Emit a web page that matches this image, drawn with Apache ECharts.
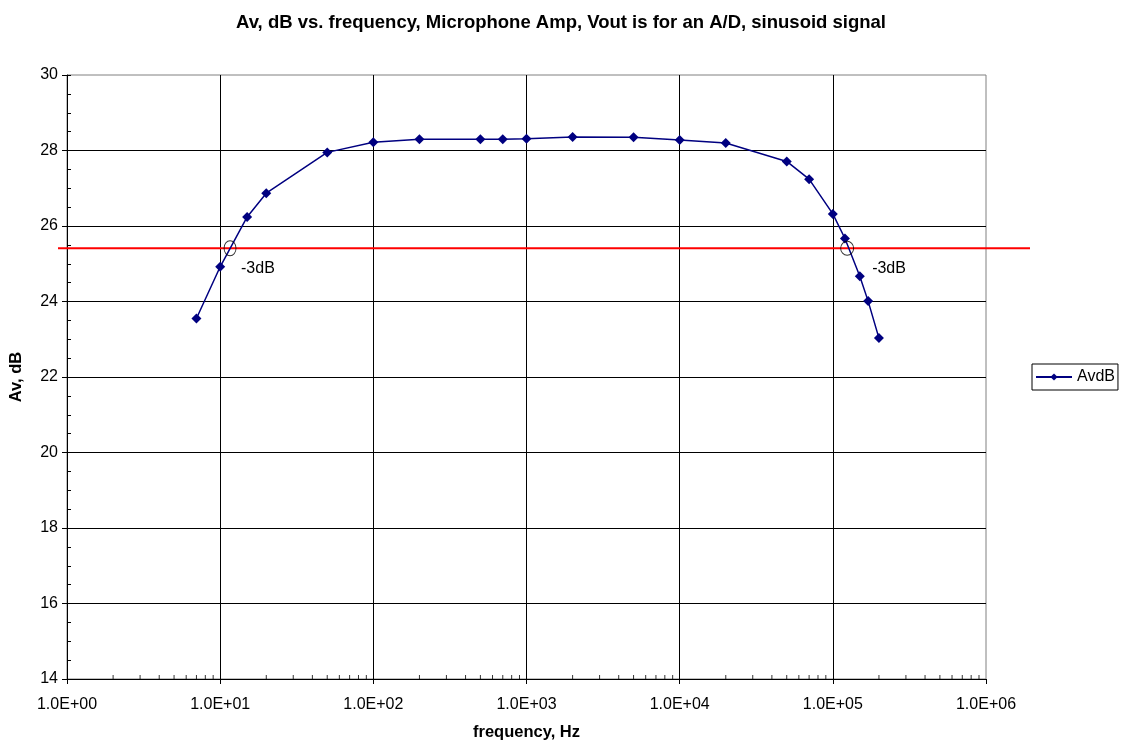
<!DOCTYPE html>
<html>
<head>
<meta charset="utf-8">
<script src="https://cdn.jsdelivr.net/npm/echarts@6/dist/echarts.min.js"></script>
<style>
    html, body { margin: 0; padding: 0; background: #fff; }
    #chart { width: 1122px; height: 746px; }
</style>
</head>
<body>
<div id="chart"></div>
<script>
// 数据
var freqHz = [7, 10, 15, 20, 50, 100, 200, 500, 700, 1000, 2000, 5000, 10000, 20000, 50000, 70000, 100000, 120000, 150000, 170000, 200000];
var avdB = [23.55, 24.92, 26.24, 26.87, 27.95, 28.22, 28.30, 28.30, 28.30, 28.31, 28.36, 28.35, 28.28, 28.20, 27.71, 27.24, 26.32, 25.67, 24.67, 24.01, 23.03];
// -3dB 参考线和标注
var minus3Level = 25.41;
var cutoffFreq = [11.6, 124000];
var cutoffLabel = '-3dB';
// 次刻度
var minorFreq = [];
[1, 10, 100, 1000, 10000, 100000].forEach(function (d) {
    [2, 3, 4, 5, 6, 7, 8, 9].forEach(function (m) { minorFreq.push(d * m); });
});
var yMin = 14, yMax = 30;

var font = 'Liberation Sans, Arial, sans-serif';
var chart = echarts.init(document.getElementById('chart'));

function expLabel(v) {
    var e = Math.round(Math.log10(v));
    return '1.0E+' + (e < 10 ? '0' : '') + e;
}

var option = {
    animation: false,
    textStyle: { fontFamily: font },
    title: {
        text: 'Av, dB vs. frequency, Microphone Amp, Vout is for an A/D, sinusoid signal',
        left: 'center',
        top: 8,
        textStyle: { fontSize: 18.5, fontWeight: 'bold', color: '#000', fontFamily: font }
    },
    legend: {
        data: ['AvdB'],
        left: 1032,
        top: 364,
        orient: 'vertical',
        borderColor: '#000',
        borderWidth: 1,
        padding: [5, 3, 5, 3],
        itemWidth: 36,
        itemHeight: 9,
        textStyle: { fontSize: 16, color: '#000', fontFamily: font }
    },
    grid: [
        { left: 66, right: 136, top: 75, bottom: 67, show: true, borderColor: '#808080', borderWidth: 1 },
        { left: 58, right: 92, top: 75, bottom: 67 }
    ],
    xAxis: [{
        type: 'log',
        logBase: 10,
        min: 1,
        max: 1000000,
        gridIndex: 0,
        name: 'frequency, Hz',
        nameLocation: 'middle',
        nameGap: 45,
        nameTextStyle: { fontSize: 16.5, fontWeight: 'bold', color: '#000', fontFamily: font },
        axisLine: { lineStyle: { color: '#000', width: 1 } },
        axisTick: { show: true, length: 5, lineStyle: { color: '#000' } },
        axisLabel: { formatter: expLabel, fontSize: 16, color: '#000', margin: 18, fontFamily: font },
        splitLine: { show: true, showMinLine: false, showMaxLine: false, lineStyle: { color: '#000', width: 1 } },
        minorTick: { show: false },
        minorSplitLine: { show: false }
    }, {
        type: 'value', min: 0, max: 1, gridIndex: 1, show: false
    }],
    yAxis: [{
        type: 'value',
        min: yMin,
        max: yMax,
        interval: 2,
        gridIndex: 0,
        name: 'Av, dB',
        nameLocation: 'middle',
        nameGap: 42,
        nameTextStyle: { fontSize: 16.5, fontWeight: 'bold', color: '#000', fontFamily: font },
        axisLine: { show: true, lineStyle: { color: '#000', width: 1 } },
        axisTick: { show: true, length: 5, lineStyle: { color: '#000' } },
        axisLabel: { fontSize: 16, color: '#000', margin: 9, fontFamily: font },
        splitLine: { show: true, showMinLine: false, showMaxLine: false, lineStyle: { color: '#000', width: 1 } }
    }, {
        // 0.5 的内侧次刻度
        type: 'value',
        min: yMin,
        max: yMax,
        interval: 0.5,
        gridIndex: 0,
        position: 'left',
        axisLine: { show: false },
        axisTick: { show: true, inside: true, length: 4, lineStyle: { color: '#000' } },
        axisLabel: { show: false },
        splitLine: { show: false }
    }, {
        type: 'value', min: yMin, max: yMax, gridIndex: 1, show: false
    }],
    series: [{
        name: 'AvdB',
        type: 'line',
        xAxisIndex: 0,
        yAxisIndex: 0,
        data: freqHz.map(function (f, i) { return [f, avdB[i]]; }),
        symbol: 'diamond',
        symbolSize: 10,
        showAllSymbol: true,
        lineStyle: { color: '#000080', width: 1.5 },
        itemStyle: { color: '#000080' },
        z: 5
    }, {
        // x 轴次刻度
        type: 'scatter',
        xAxisIndex: 0,
        yAxisIndex: 0,
        data: minorFreq.map(function (f) { return [f, yMin]; }),
        symbol: 'rect',
        symbolSize: [1, 4],
        symbolOffset: [0, -2],
        itemStyle: { color: '#000' },
        clip: false,
        silent: true,
        z: 3
    }, {
        // -3dB 线
        type: 'line',
        xAxisIndex: 1,
        yAxisIndex: 2,
        data: [[0, minus3Level], [1, minus3Level]],
        symbol: 'none',
        lineStyle: { color: '#ff0000', width: 2 },
        silent: true,
        z: 4
    }, {
        // -3dB 圆圈
        type: 'scatter',
        xAxisIndex: 0,
        yAxisIndex: 0,
        data: [
            { value: [cutoffFreq[0], minus3Level], symbolSize: [12, 15] },
            { value: [cutoffFreq[1], minus3Level], symbolSize: [13, 14] }
        ],
        symbol: 'circle',
        itemStyle: { color: 'rgba(0,0,0,0)', borderColor: '#000', borderWidth: 1 },
        silent: true,
        z: 6
    }, {
        // -3dB 文字
        type: 'scatter',
        xAxisIndex: 0,
        yAxisIndex: 0,
        data: [
            { value: [cutoffFreq[0], minus3Level], label: { offset: [11, 20] } },
            { value: [cutoffFreq[1], minus3Level], label: { offset: [25, 20] } }
        ],
        symbolSize: 1,
        itemStyle: { color: '#fff', opacity: 0 },
        label: {
            show: true,
            position: 'inside',
            formatter: cutoffLabel,
            fontSize: 16,
            color: '#000000',
            opacity: 1,
            textBorderWidth: 0,
            align: 'left',
            verticalAlign: 'middle',
            fontFamily: font
        },
        silent: true,
        z: 7
    }]
};
chart.setOption(option);
</script>
</body>
</html>
